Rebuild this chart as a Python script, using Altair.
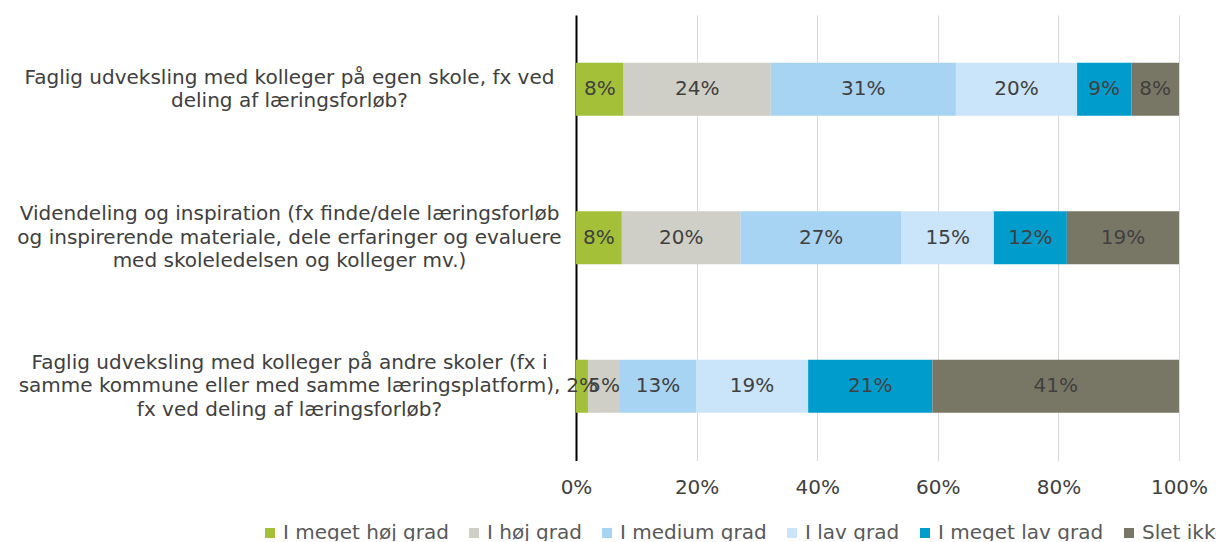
import altair as alt
import pandas as pd

questions = [
    "Faglig udveksling med kolleger på egen skole, fx ved|deling af læringsforløb?",
    "Videndeling og inspiration (fx finde/dele læringsforløb|og inspirerende materiale, dele erfaringer og evaluere|med skoleledelsen og kolleger mv.)",
    "Faglig udveksling med kolleger på andre skoler (fx i|samme kommune eller med samme læringsplatform),|fx ved deling af læringsforløb?",
]
categories = ["I meget høj grad", "I høj grad", "I medium grad", "I lav grad", "I meget lav grad", "Slet ikke"]
colors = ["#A3C038", "#CFCFC7", "#A8D4F3", "#CAE4F9", "#009DCC", "#787766"]

q1_values = [0.079, 0.244, 0.307, 0.201, 0.090, 0.079]
q2_values = [0.076, 0.197, 0.267, 0.153, 0.121, 0.186]
q3_values = [0.020, 0.053, 0.126, 0.186, 0.206, 0.409]

rows = []
for q, vals in zip(questions, [q1_values, q2_values, q3_values]):
    for i, (c, v) in enumerate(zip(categories, vals)):
        rows.append({"question": q, "category": c, "order": i, "value": v})
df = pd.DataFrame(rows)

FONT = "DejaVu Sans"
TXT = "#404040"
FS = 20
LH = 23.5

y_enc = alt.Y(
    "question:N",
    sort=questions,
    title=None,
    scale=alt.Scale(paddingInner=0.643, paddingOuter=0.3215),
    axis=alt.Axis(
        labelExpr="split(datum.label, '|')",
        labelAlign="center",
        labelBaseline="middle",
        labelPadding=287,
        labelOffset={
            "condition": {"test": "length(split(datum.label, '|')) == 3", "value": -LH},
            "value": -LH / 2,
        },
        labelLimit=0,
        labelFontSize=FS,
        labelLineHeight=LH,
        labelColor=TXT,
        labelFont=FONT,
        ticks=False,
        domain=True,
        domainColor="#000000",
        domainWidth=2,
        grid=False,
    ),
)

base = alt.Chart(df).transform_stack(
    stack="value", as_=["x0", "x1"], groupby=["question"], sort=[alt.SortField("order")]
).transform_calculate(mid="(datum.x0 + datum.x1) / 2")

bars = base.mark_bar().encode(
    x=alt.X(
        "x0:Q",
        title=None,
        scale=alt.Scale(domain=[0, 1], nice=False),
        axis=alt.Axis(
            values=[0, 0.2, 0.4, 0.6, 0.8, 1.0],
            format=".0%",
            grid=True,
            gridColor="#D9D9D9",
            gridWidth=1,
            domain=False,
            ticks=False,
            labelFlush=False,
            labelFontSize=FS,
            labelColor=TXT,
            labelFont=FONT,
            labelPadding=17,
        ),
    ),
    x2="x1:Q",
    y=y_enc,
    color=alt.Color(
        "category:N",
        scale=alt.Scale(domain=categories, range=colors),
        sort=categories,
        legend=alt.Legend(
            title=None,
            orient="none",
            direction="horizontal",
            legendX=-316,
            legendY=508,
            symbolType="square",
            symbolSize=100,
            symbolStrokeWidth=0,
            labelFontSize=FS,
            labelColor="#595959",
            labelFont=FONT,
            columnPadding=15,
            labelOffset=3,
            labelLimit=0,
        ),
    ),
)

texts = base.mark_text(fontSize=FS, color=TXT, font=FONT, baseline="middle").encode(
    x=alt.X("mid:Q"),
    y=alt.Y("question:N", sort=questions),
    text=alt.Text("value:Q", format=".0%"),
)

chart = alt.layer(bars, texts).properties(
    width=603,
    height=445.5,
    padding={"left": 568, "top": 7, "right": 37, "bottom": 80},
    autosize=alt.AutoSizeParams(type="none"),
    background="white",
).configure_view(stroke=None)

chart.save("out.html", embed_options={"renderer": "svg", "actions": False})
